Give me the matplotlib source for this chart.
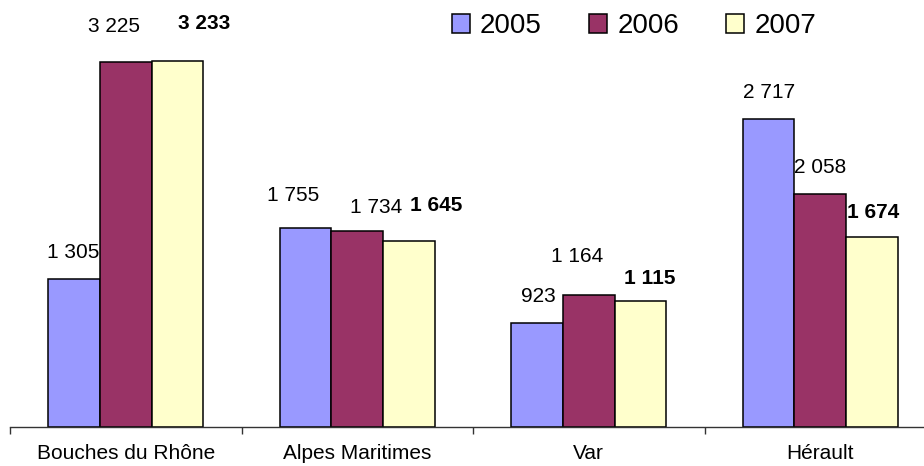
import numpy as np
import matplotlib
matplotlib.use("Agg")
import matplotlib.pyplot as plt
from matplotlib.patches import Patch

plt.rcParams['font.family'] = ['Liberation Sans', 'DejaVu Sans']

categories = ["Bouches du Rhône", "Alpes Maritimes", "Var", "Hérault"]
years = ["2005", "2006", "2007"]
v2005 = [1305, 1755, 923, 2717]
v2006 = [3225, 1734, 1164, 2058]
v2007 = [3233, 1645, 1115, 1674]
labels2005 = ["1 305", "1 755", "923", "2 717"]
labels2006 = ["3 225", "1 734", "1 164", "2 058"]
labels2007 = ["3 233", "1 645", "1 115", "1 674"]

colors = ["#9999FF", "#993366", "#FFFFCC"]
# label offsets (pixels) from bar top, per series, per category
offsets = [
    [(-1, 27), (-13, 33), (1, 26), (0, 27)],
    [(-12, 35), (19, 23), (-12, 39), (0, 27)],
    [(27, 38), (27, 35), (9, 22), (1, 25)],
]

fig = plt.figure(figsize=(9.24, 4.66), dpi=100)
ax = fig.add_axes([10 / 924, 39 / 466, 926 / 924, 427 / 466])

x = np.arange(len(categories))
w = 0.2225
series = [v2005, v2006, v2007]
texts = [labels2005, labels2006, labels2007]
for i, (vals, lab) in enumerate(zip(series, texts)):
    xs = x + (i - 1) * w
    ax.bar(xs, vals, width=w, color=colors[i], edgecolor="black", linewidth=1.1)
    for j in range(len(vals)):
        dx, dy = offsets[i][j]
        ax.annotate(lab[j], (xs[j], vals[j]), xytext=(dx, dy),
                    textcoords="offset pixels", ha="center", va="center",
                    fontsize=15, fontweight="bold" if i == 2 else "normal")

ax.set_xlim(-0.5, 3.5)
ax.set_ylim(0, 3772)
for s in ["top", "right", "left"]:
    ax.spines[s].set_visible(False)
ax.spines["bottom"].set_linewidth(1)
ax.spines["bottom"].set_color("#333333")
ax.set_yticks([])
ax.set_xticks(np.arange(-0.5, 4, 1))
ax.set_xticklabels([])
ax.tick_params(axis="x", which="major", length=5, width=1, direction="out", color="#333333")
ax.set_xticks(x, minor=True)
ax.set_xticklabels(categories, minor=True, fontsize=15)
ax.tick_params(axis="x", which="minor", length=0, pad=12.5)

handles = [Patch(facecolor=c, edgecolor="black", linewidth=1.1) for c in colors]
fig.legend(handles, years, loc="center left", bbox_to_anchor=(452 / 924, 1 - 26 / 466),
           ncol=3, frameon=False, fontsize=20, handlelength=0.65, handleheight=0.65,
           handletextpad=0.36, columnspacing=1.7, borderpad=0, borderaxespad=0)

fig.savefig("out.png", dpi=100)
